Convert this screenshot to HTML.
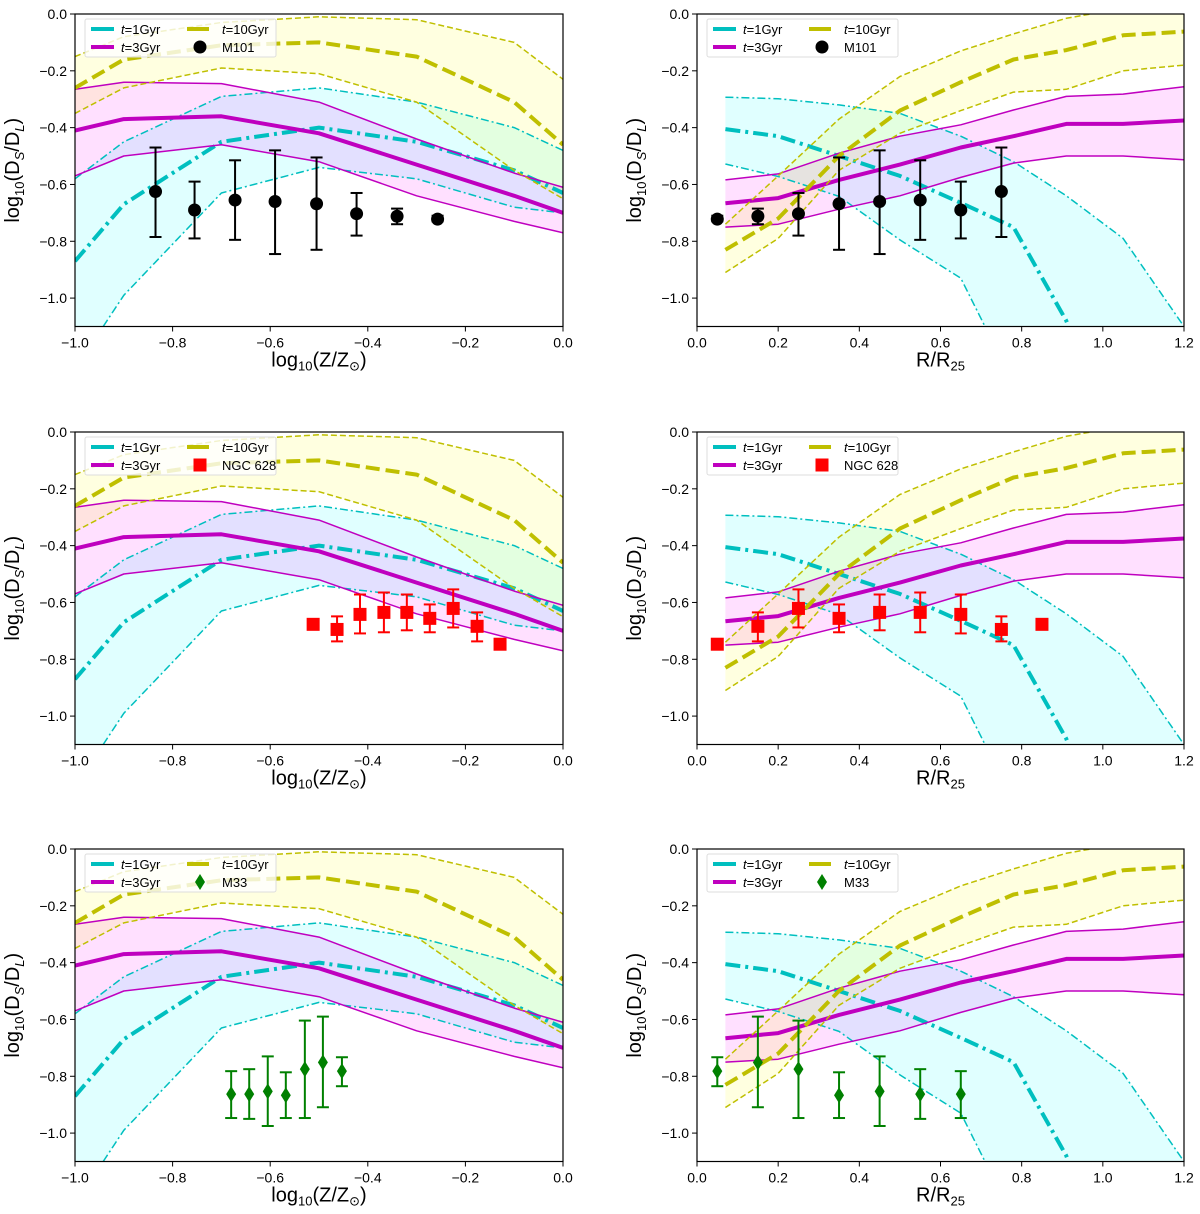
<!DOCTYPE html>
<html><head><meta charset="utf-8"><style>
html,body{margin:0;padding:0;background:#fff;overflow:hidden;width:1200px;height:1214px}
svg{display:block}
svg text{font-family:"Liberation Sans","DejaVu Sans",sans-serif;fill:#000}
</style></head><body>
<svg id="fig" width="1200" height="1214" viewBox="0 0 1200 1214" overflow="hidden" xmlns="http://www.w3.org/2000/svg"></svg>
<script>
// ---- model data (metallicity panels) ----
const zGrid=[-1,-0.9,-0.7,-0.5,-0.3,-0.1,0];
const zCyanUp=[-0.58,-0.45,-0.29,-0.26,-0.31,-0.40,-0.48];
const zCyanMid=[-0.87,-0.67,-0.45,-0.40,-0.45,-0.55,-0.63];
const zCyanLo=[-1.25,-0.99,-0.63,-0.54,-0.58,-0.68,-0.70];
const zMagUp=[-0.265,-0.24,-0.245,-0.31,-0.44,-0.56,-0.61];
const zMagMid=[-0.41,-0.37,-0.36,-0.42,-0.53,-0.64,-0.70];
const zMagLo=[-0.57,-0.50,-0.46,-0.52,-0.64,-0.73,-0.77];
const zYelUp=[-0.15,-0.08,-0.03,-0.01,-0.02,-0.10,-0.23];
const zYelMid=[-0.26,-0.16,-0.11,-0.10,-0.15,-0.31,-0.46];
const zYelLo=[-0.35,-0.26,-0.19,-0.21,-0.31,-0.55,-0.65];
// ---- model data (radius panels) ----
const rGrid=[0.07,0.2,0.35,0.5,0.65,0.78,0.91,1.05,1.2];
const rCyanUp=[-0.293,-0.298,-0.32,-0.35,-0.43,-0.52,-0.64,-0.79,-1.1];
const rCyanMid=[-0.405,-0.43,-0.50,-0.57,-0.665,-0.75,-1.08,-1.6,-2.0];
const rCyanLo=[-0.528,-0.572,-0.642,-0.795,-0.93,-1.3,-1.8,-2.2,-2.5];
const rMagUp=[-0.584,-0.563,-0.49,-0.43,-0.39,-0.338,-0.29,-0.282,-0.256];
const rMagMid=[-0.666,-0.648,-0.584,-0.53,-0.47,-0.43,-0.387,-0.387,-0.375];
const rMagLo=[-0.75,-0.74,-0.687,-0.64,-0.575,-0.525,-0.50,-0.50,-0.513];
const rYelUp=[-0.74,-0.57,-0.37,-0.22,-0.13,-0.07,-0.015,0.02,0.03];
const rYelMid=[-0.83,-0.72,-0.50,-0.34,-0.24,-0.16,-0.127,-0.075,-0.062];
const rYelLo=[-0.91,-0.79,-0.55,-0.42,-0.34,-0.275,-0.265,-0.20,-0.18];
// ---- observations ----
const m101Z=[-0.835,-0.755,-0.672,-0.59,-0.505,-0.423,-0.34,-0.257];
const m101Zy=[-0.625,-0.69,-0.655,-0.66,-0.668,-0.703,-0.712,-0.722];
const m101ZHi=[-0.47,-0.59,-0.515,-0.48,-0.505,-0.63,-0.685,-0.71];
const m101ZLo=[-0.785,-0.79,-0.795,-0.845,-0.83,-0.78,-0.74,-0.73];
const m101R=[0.05,0.15,0.25,0.35,0.45,0.55,0.65,0.75];
const m101Ry=[-0.722,-0.712,-0.703,-0.668,-0.66,-0.655,-0.69,-0.625];
const m101RHi=[-0.71,-0.685,-0.63,-0.505,-0.48,-0.515,-0.59,-0.47];
const m101RLo=[-0.73,-0.74,-0.78,-0.83,-0.845,-0.795,-0.79,-0.785];
const n628Z=[-0.512,-0.463,-0.416,-0.367,-0.32,-0.273,-0.225,-0.176,-0.129];
const n628Zy=[-0.677,-0.695,-0.642,-0.635,-0.635,-0.656,-0.621,-0.684,-0.747];
const n628ZHi=[-0.67,-0.649,-0.572,-0.565,-0.572,-0.607,-0.554,-0.635,-0.74];
const n628ZLo=[-0.685,-0.737,-0.709,-0.705,-0.698,-0.705,-0.688,-0.737,-0.755];
const n628R=[0.05,0.15,0.25,0.35,0.45,0.55,0.65,0.75,0.85];
const n628Ry=[-0.747,-0.684,-0.621,-0.656,-0.635,-0.635,-0.642,-0.695,-0.677];
const n628RHi=[-0.74,-0.635,-0.554,-0.607,-0.572,-0.565,-0.572,-0.649,-0.67];
const n628RLo=[-0.755,-0.737,-0.688,-0.705,-0.698,-0.705,-0.709,-0.737,-0.685];
const m33Z=[-0.68,-0.643,-0.605,-0.568,-0.529,-0.492,-0.453];
const m33Zy=[-0.863,-0.863,-0.853,-0.867,-0.775,-0.751,-0.782];
const m33ZHi=[-0.782,-0.775,-0.73,-0.786,-0.604,-0.59,-0.733];
const m33ZLo=[-0.947,-0.95,-0.975,-0.947,-0.947,-0.909,-0.835];
const m33R=[0.05,0.15,0.25,0.35,0.45,0.55,0.65];
const m33Ry=[-0.782,-0.751,-0.775,-0.867,-0.853,-0.863,-0.863];
const m33RHi=[-0.733,-0.59,-0.604,-0.786,-0.73,-0.775,-0.782];
const m33RLo=[-0.835,-0.909,-0.947,-0.947,-0.975,-0.95,-0.947];
const yTicks=[0,-0.2,-0.4,-0.6,-0.8,-1.0];
const zTicks=[-1,-0.8,-0.6,-0.4,-0.2,0];
const rTicks=[0,0.2,0.4,0.6,0.8,1.0,1.2];

const NS="http://www.w3.org/2000/svg";
const fig=document.getElementById('fig');
function mk(tag,attrs,parent){const e=document.createElementNS(NS,tag);for(const k in attrs)e.setAttribute(k,attrs[k]);(parent||fig).appendChild(e);return e;}
const CY='#00bfbf',MG='#bf00bf',YL='#bfbf00';
const rowTops=[14,432,849];
const PH=312.5;
const YMIN=-1.1;

function panel(idx,kind,row,obs){
  const left=kind==='z'?75:697, right=kind==='z'?563:1184;
  const top=rowTops[row], bottom=top+PH;
  const x0=kind==='z'?-1:0, x1=kind==='z'?0:1.2;
  const sx=v=>left+(v-x0)/(x1-x0)*(right-left);
  const sy=v=>top+(0-v)/1.1*PH;
  const g=mk('g',{});
  
  
  const cid='clip'+idx;
  const cp=mk('clipPath',{id:cid},g);mk('rect',{x:left,y:top,width:right-left,height:PH},cp);
  const pg=mk('g',{'clip-path':'url(#'+cid+')'},g);
  const X=kind==='z'?zGrid:rGrid;
  const M=kind==='z'?{cu:zCyanUp,cm:zCyanMid,cl:zCyanLo,mu:zMagUp,mm:zMagMid,ml:zMagLo,yu:zYelUp,ym:zYelMid,yl:zYelLo}:{cu:rCyanUp,cm:rCyanMid,cl:rCyanLo,mu:rMagUp,mm:rMagMid,ml:rMagLo,yu:rYelUp,ym:rYelMid,yl:rYelLo};
  // insert crossing points at YMIN, then clamp
  const dense=a=>{
    const out=[];
    for(let i=0;i<X.length;i++){
      if(i>0&&((a[i-1]<YMIN)!==(a[i]<YMIN))){const t=(YMIN-a[i-1])/(a[i]-a[i-1]);out.push([X[i-1]+t*(X[i]-X[i-1]),YMIN]);}
      out.push([X[i],Math.max(a[i],YMIN)]);
    }
    return out;
  };
  const clipPts=a=>{
    const out=[];
    for(let i=0;i<X.length;i++){
      const y=a[i];
      if(y>=YMIN){
        if(i>0&&a[i-1]<YMIN){const t=(YMIN-a[i-1])/(y-a[i-1]);out.push([X[i-1]+t*(X[i]-X[i-1]),YMIN]);}
        out.push([X[i],y]);
      }else if(i>0&&a[i-1]>=YMIN){const t=(YMIN-a[i-1])/(y-a[i-1]);out.push([X[i-1]+t*(X[i]-X[i-1]),YMIN]);}
    }
    return out.map(p=>sx(p[0]).toFixed(1)+','+sy(p[1]).toFixed(1)).join(' ');
  };
  const band=(u,l,col,name)=>{
    const up=dense(u),lo=dense(l).reverse();
    const p=up.concat(lo).map(q=>sx(q[0]).toFixed(1)+','+sy(q[1]).toFixed(1)).join(' ');
    const e=mk('polygon',{points:p,fill:col,'fill-opacity':0.12,stroke:'none'},pg);};
  band(M.cu,M.cl,'#00ffff','band-1gyr');band(M.mu,M.ml,'#ff00ff','band-3gyr');band(M.yu,M.yl,'#ffff00','band-10gyr');
  const line=(a,col,w,dash,name)=>{const e=mk('polyline',{points:clipPts(a),fill:'none',stroke:col,'stroke-width':w,'stroke-dasharray':dash||'none','stroke-linejoin':'round'},pg);};
  line(M.cu,CY,1.5,'8 3 2 3','line-1gyr-upper');line(M.cl,CY,1.5,'8 3 2 3','line-1gyr-lower');line(M.cm,CY,4,'15 5 3 5','line-1gyr');
  line(M.mu,MG,1.5,null,'line-3gyr-upper');line(M.ml,MG,1.5,null,'line-3gyr-lower');line(M.mm,MG,4,null,'line-3gyr');
  line(M.yu,YL,1.5,'6 3','line-10gyr-upper');line(M.yl,YL,1.5,'6 3','line-10gyr-lower');line(M.ym,YL,4,'14 6','line-10gyr');
  obs.x.forEach((xv,i)=>{
    const cx=sx(xv),cy=sy(obs.y[i]),h=sy(obs.hi[i]),l=sy(obs.lo[i]);
    const eg=mk('g',{stroke:obs.col,'stroke-width':2},g);
    
    mk('line',{x1:cx,x2:cx,y1:h,y2:l},eg);mk('line',{x1:cx-6,x2:cx+6,y1:h,y2:h},eg);mk('line',{x1:cx-6,x2:cx+6,y1:l,y2:l},eg);
    let m;
    if(obs.mk==='o')m=mk('circle',{cx:cx,cy:cy,r:6.5,fill:obs.col},g);
    else if(obs.mk==='s')m=mk('rect',{x:cx-6.5,y:cy-6.5,width:13,height:13,fill:obs.col},g);
    else m=mk('polygon',{points:`${cx},${cy-8} ${cx+5},${cy} ${cx},${cy+8} ${cx-5},${cy}`,fill:obs.col},g);
    
  });
  mk('rect',{x:left,y:top,width:right-left,height:PH,fill:'none',stroke:'#000','stroke-width':1.2},g);
  yTicks.forEach(t=>{const y=sy(t);mk('line',{x1:left-5,x2:left,y1:y,y2:y,stroke:'#000'},g);
    const tx=mk('text',{x:left-8,y:y+5,'text-anchor':'end','font-size':14},g);tx.textContent=(t===0?'0.0':'\u2212'+Math.abs(t).toFixed(1));});
  (kind==='z'?zTicks:rTicks).forEach(t=>{const x=sx(t);mk('line',{x1:x,x2:x,y1:bottom,y2:bottom+5,stroke:'#000'},g);
    const tx=mk('text',{x:x,y:bottom+21,'text-anchor':'middle','font-size':14},g);tx.textContent=(t<0?'\u2212':'')+Math.abs(t).toFixed(1);});
  const yl=mk('text',{transform:`translate(${left-56},${top+PH/2}) rotate(-90)`,'text-anchor':'middle','font-size':20},g);
  
  yl.innerHTML='log<tspan font-size="13" dy="5">10</tspan><tspan dy="-5">(D</tspan><tspan font-size="13" dy="5" font-style="italic">S</tspan><tspan dy="-5">/D</tspan><tspan font-size="13" dy="5" font-style="italic">L</tspan><tspan dy="-5">)</tspan>';
  const xl=mk('text',{x:(left+right)/2,y:bottom+40,'text-anchor':'middle','font-size':20},g);
  
  xl.innerHTML=kind==='z'?'log<tspan font-size="13" dy="4">10</tspan><tspan dy="-4">(Z/Z</tspan><tspan font-size="13" dy="4">\u2299</tspan><tspan dy="-4">)</tspan>':'R/R<tspan font-size="13" dy="4">25</tspan>';
  const lg=mk('g',{},g);
  const lx=left+10,ly=top+5;
  mk('rect',{x:lx,y:ly,width:191,height:38,fill:'#fff','fill-opacity':0.8,stroke:'#ddd',rx:2},lg);
  const r1=ly+10,r2=ly+28;
  mk('line',{x1:lx+6,x2:lx+29,y1:r1,y2:r1,stroke:CY,'stroke-width':4},lg);
  mk('line',{x1:lx+6,x2:lx+29,y1:r2,y2:r2,stroke:MG,'stroke-width':4},lg);
  mk('line',{x1:lx+102,x2:lx+128,y1:r1,y2:r1,stroke:YL,'stroke-width':4,'stroke-dasharray':'22 4'},lg);
  const lt=(x,y,html)=>{const t=mk('text',{x:x,y:y+5,'font-size':13},lg);t.innerHTML=html;};
  lt(lx+36,r1,'<tspan font-style="italic">t</tspan>=1Gyr');lt(lx+36,r2,'<tspan font-style="italic">t</tspan>=3Gyr');
  lt(lx+137,r1,'<tspan font-style="italic">t</tspan>=10Gyr');lt(lx+137,r2,obs.name);
  const mx=lx+115;
  if(obs.mk==='o')mk('circle',{cx:mx,cy:r2,r:6.5,fill:obs.col},lg);
  else if(obs.mk==='s')mk('rect',{x:mx-6.5,y:r2-6.5,width:13,height:13,fill:obs.col},lg);
  else mk('polygon',{points:`${mx},${r2-8} ${mx+5},${r2} ${mx},${r2+8} ${mx-5},${r2}`,fill:obs.col},lg);
}
panel(0,'z',0,{name:'M101',mk:'o',col:'#000',x:m101Z,y:m101Zy,hi:m101ZHi,lo:m101ZLo});
panel(1,'r',0,{name:'M101',mk:'o',col:'#000',x:m101R,y:m101Ry,hi:m101RHi,lo:m101RLo});
panel(2,'z',1,{name:'NGC 628',mk:'s',col:'#ff0000',x:n628Z,y:n628Zy,hi:n628ZHi,lo:n628ZLo});
panel(3,'r',1,{name:'NGC 628',mk:'s',col:'#ff0000',x:n628R,y:n628Ry,hi:n628RHi,lo:n628RLo});
panel(4,'z',2,{name:'M33',mk:'d',col:'#008000',x:m33Z,y:m33Zy,hi:m33ZHi,lo:m33ZLo});
panel(5,'r',2,{name:'M33',mk:'d',col:'#008000',x:m33R,y:m33Ry,hi:m33RHi,lo:m33RLo});
</script>
</body></html>
